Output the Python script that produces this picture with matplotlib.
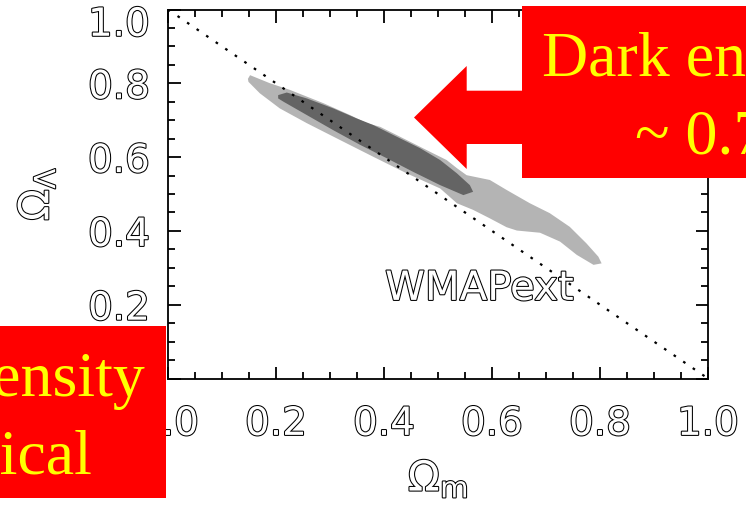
import matplotlib
matplotlib.use("Agg")
import matplotlib.pyplot as plt
import matplotlib.patheffects as pe
from matplotlib.patches import Rectangle, Polygon
from matplotlib.ticker import MultipleLocator

W, H = 746, 507

# outer (light) confidence region, boundary in (Omega_m, Omega_Lambda)
light_om = [0.148, 0.152, 0.189, 0.226, 0.288, 0.337, 0.368, 0.393, 0.430, 0.479,
            0.516, 0.535, 0.553, 0.596, 0.627, 0.670, 0.707, 0.744, 0.775, 0.797,
            0.803, 0.788, 0.757, 0.726, 0.689, 0.646, 0.627, 0.596, 0.565, 0.535,
            0.504, 0.442, 0.380, 0.319, 0.257, 0.207, 0.170, 0.149]
light_ol = [0.812, 0.822, 0.800, 0.782, 0.746, 0.714, 0.692, 0.682, 0.655, 0.619,
            0.592, 0.570, 0.551, 0.538, 0.511, 0.475, 0.448, 0.411, 0.366, 0.330,
            0.312, 0.308, 0.335, 0.371, 0.395, 0.401, 0.410, 0.434, 0.457, 0.475,
            0.515, 0.556, 0.601, 0.646, 0.692, 0.732, 0.773, 0.804]

# inner (dark) confidence region
dark_om = [0.204, 0.220, 0.257, 0.306, 0.349, 0.380, 0.417, 0.467, 0.504, 0.535,
           0.559, 0.565, 0.547, 0.504, 0.454, 0.405, 0.356, 0.306, 0.257, 0.214, 0.204]
dark_ol = [0.768, 0.775, 0.759, 0.732, 0.705, 0.687, 0.660, 0.624, 0.592, 0.556,
           0.524, 0.506, 0.497, 0.524, 0.560, 0.597, 0.633, 0.673, 0.714, 0.750, 0.759]

# flat universe line
flat_om = [0.0, 1.0]
flat_ol = [1.0, 0.0]

tick_vals = [0.0, 0.2, 0.4, 0.6, 0.8, 1.0]
tick_labels = ["0.0", "0.2", "0.4", "0.6", "0.8", "1.0"]


def fx(px):
    return px / W


def fy(py):
    return 1 - py / H


hollow = [pe.Stroke(linewidth=1.5, foreground="black"), pe.Normal()]

fig = plt.figure(figsize=(W / 100, H / 100), dpi=100)
ax = fig.add_axes([fx(168), fy(378.5), 540 / W, 369 / H])

ax.fill(light_om, light_ol, color="#b4b4b4", lw=0)
ax.fill(dark_om, dark_ol, color="#646464", lw=0)
ax.plot(flat_om, flat_ol, color="black", lw=1.6, ls=(0, (1.2, 4)))

ax.set_xlim(0, 1)
ax.set_ylim(0, 1)
ax.set_xticks(tick_vals)
ax.set_xticklabels(tick_labels)
ax.set_yticks(tick_vals)
ax.set_yticklabels(tick_labels[:-1] + [""])
ax.xaxis.set_minor_locator(MultipleLocator(0.05))
ax.yaxis.set_minor_locator(MultipleLocator(0.05))
ax.tick_params(which="both", direction="in", top=True, right=True, width=1.3,
               labelcolor="white", labelsize=28)
ax.tick_params(which="major", length=9)
ax.tick_params(which="minor", length=5)
ax.tick_params(axis="x", pad=19)
ax.tick_params(axis="y", pad=13)
for lbl in ax.get_xticklabels() + ax.get_yticklabels():
    lbl.set_path_effects(hollow)
for sp in ax.spines.values():
    sp.set_linewidth(1.3)

# top y label sits lower than its tick
ax.annotate(tick_labels[-1], xy=(0, 1.0), xycoords=("axes fraction", "data"),
            xytext=(-13, -11), textcoords="offset points", ha="right", va="center",
            fontsize=28, color="white", path_effects=hollow)

ax.set_xlabel(r"$\Omega_{\mathrm{m}}$", fontsize=30, labelpad=10, color="white",
              path_effects=hollow)
ax.set_ylabel(r"$\Omega_\Lambda$", fontsize=30, labelpad=22, color="white",
              path_effects=hollow)

ax.text(0.402, 0.213, "WMAPext", fontsize=29, color="white", va="baseline",
        path_effects=hollow)

# overlaid annotation boxes
red = "#ff0000"
yellow = "#ffff00"
fig.add_artist(Rectangle((fx(522.3), fy(178)), 1 - fx(522.3) + 0.01, 172 / H,
                         transform=fig.transFigure, facecolor=red, edgecolor="none", zorder=5))
arrow_px = [(414, 117.5), (466.7, 66), (466.7, 90.7), (530, 90.7), (530, 144),
            (466.7, 144), (466.7, 169)]
fig.add_artist(Polygon([(fx(a), fy(b)) for a, b in arrow_px], closed=True,
                       transform=fig.transFigure, facecolor=red, edgecolor="none", zorder=5))
fig.add_artist(Rectangle((0, fy(498)), fx(166), 172 / H,
                         transform=fig.transFigure, facecolor=red, edgecolor="none", zorder=5))

serif = "Liberation Serif"
fig.text(fx(542.3), fy(76), "Dark energy", fontsize=46, family=serif, color=yellow,
         va="baseline", ha="left", zorder=6)
fig.text(fx(635), fy(154), "~ 0.7", fontsize=46, family=serif, color=yellow,
         va="baseline", ha="left", zorder=6)
fig.text(fx(145), fy(396), "Total density", fontsize=46, family=serif, color=yellow,
         va="baseline", ha="right", zorder=6)
fig.text(fx(92), fy(473), "~ critical", fontsize=46, family=serif, color=yellow,
         va="baseline", ha="right", zorder=6)

fig.savefig("out.png", dpi=100)
